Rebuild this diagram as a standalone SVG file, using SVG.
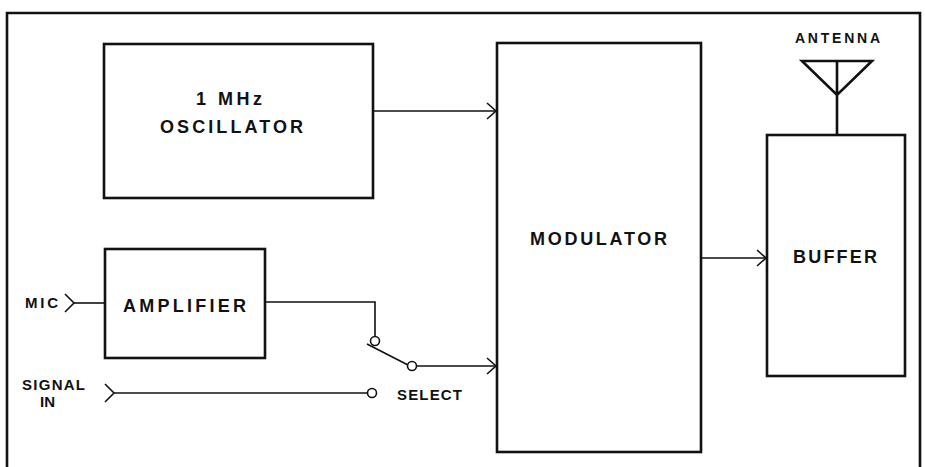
<svg xmlns="http://www.w3.org/2000/svg" width="925" height="467" viewBox="0 0 925 467">
<style>
.box{fill:none;stroke:#111;stroke-width:2.6}
.ln{fill:none;stroke:#111;stroke-width:1.6}
.t{font-family:"Liberation Sans",Arial,sans-serif;font-weight:bold;fill:#111;font-size:18px}
.s{font-size:15px}
.a{font-size:14px}
</style>
<defs>
<marker id="ah" markerWidth="12" markerHeight="20" refX="10" refY="9" orient="auto" markerUnits="userSpaceOnUse">
<path d="M1,1 L10,9 L1,17" fill="none" stroke="#111" stroke-width="1.6"/>
</marker>
</defs>
<rect width="925" height="467" fill="#fff"/>
<path class="box" d="M7,467 V13 H920 V467"/>
<g id="oscillator">
<rect class="box" x="104" y="44" width="269" height="154"/>
<text class="t" x="196" y="105" textLength="66" lengthAdjust="spacing">1 MHz</text>
<text class="t" x="160" y="133" textLength="143" lengthAdjust="spacing">OSCILLATOR</text>
</g>
<g id="amplifier">
<rect class="box" x="105" y="249" width="160" height="109"/>
<text class="t" x="123" y="312" textLength="123" lengthAdjust="spacing">AMPLIFIER</text>
</g>
<g id="modulator">
<rect class="box" x="497" y="43" width="204" height="409"/>
<text class="t" x="530" y="245" textLength="137" lengthAdjust="spacing">MODULATOR</text>
</g>
<g id="buffer">
<rect class="box" x="767" y="135" width="138" height="241"/>
<text class="t" x="793" y="263" textLength="84" lengthAdjust="spacing">BUFFER</text>
</g>
<g id="antenna">
<text class="t a" x="795" y="43" textLength="85" lengthAdjust="spacing">ANTENNA</text>
<path class="box" d="M802,61 H872 L837,95 Z M837,61 V135" stroke-linejoin="miter"/>
</g>
<g id="mic">
<text class="t s" x="25" y="308" textLength="33" lengthAdjust="spacing">MIC</text>
<path class="ln" d="M65,294 L74,303 L65,312"/>
</g>
<g id="signal-in">
<text class="t s" x="22" y="390" textLength="63" lengthAdjust="spacing">SIGNAL</text>
<text class="t s" x="40" y="407" textLength="15" lengthAdjust="spacing">IN</text>
<path class="ln" d="M105,384 L114,393 L105,402"/>
</g>
<g id="select-switch">
<circle class="ln" cx="375" cy="341" r="4.5"/>
<circle class="ln" cx="412" cy="366" r="4.5"/>
<circle class="ln" cx="372" cy="393" r="4.5"/>
<path class="ln" d="M367,344 L408,365"/>
<text class="t s" x="397" y="400" textLength="65" lengthAdjust="spacing">SELECT</text>
</g>
<g id="connectors">
<path class="ln" d="M373,111 H496" marker-end="url(#ah)"/>
<path class="ln" d="M74,303 H105"/>
<path class="ln" d="M265,302 H375 V336.5"/>
<path class="ln" d="M416.5,366 H496" marker-end="url(#ah)"/>
<path class="ln" d="M114,393 H367.5"/>
<path class="ln" d="M701,258 H766" marker-end="url(#ah)"/>
</g>
</svg>
